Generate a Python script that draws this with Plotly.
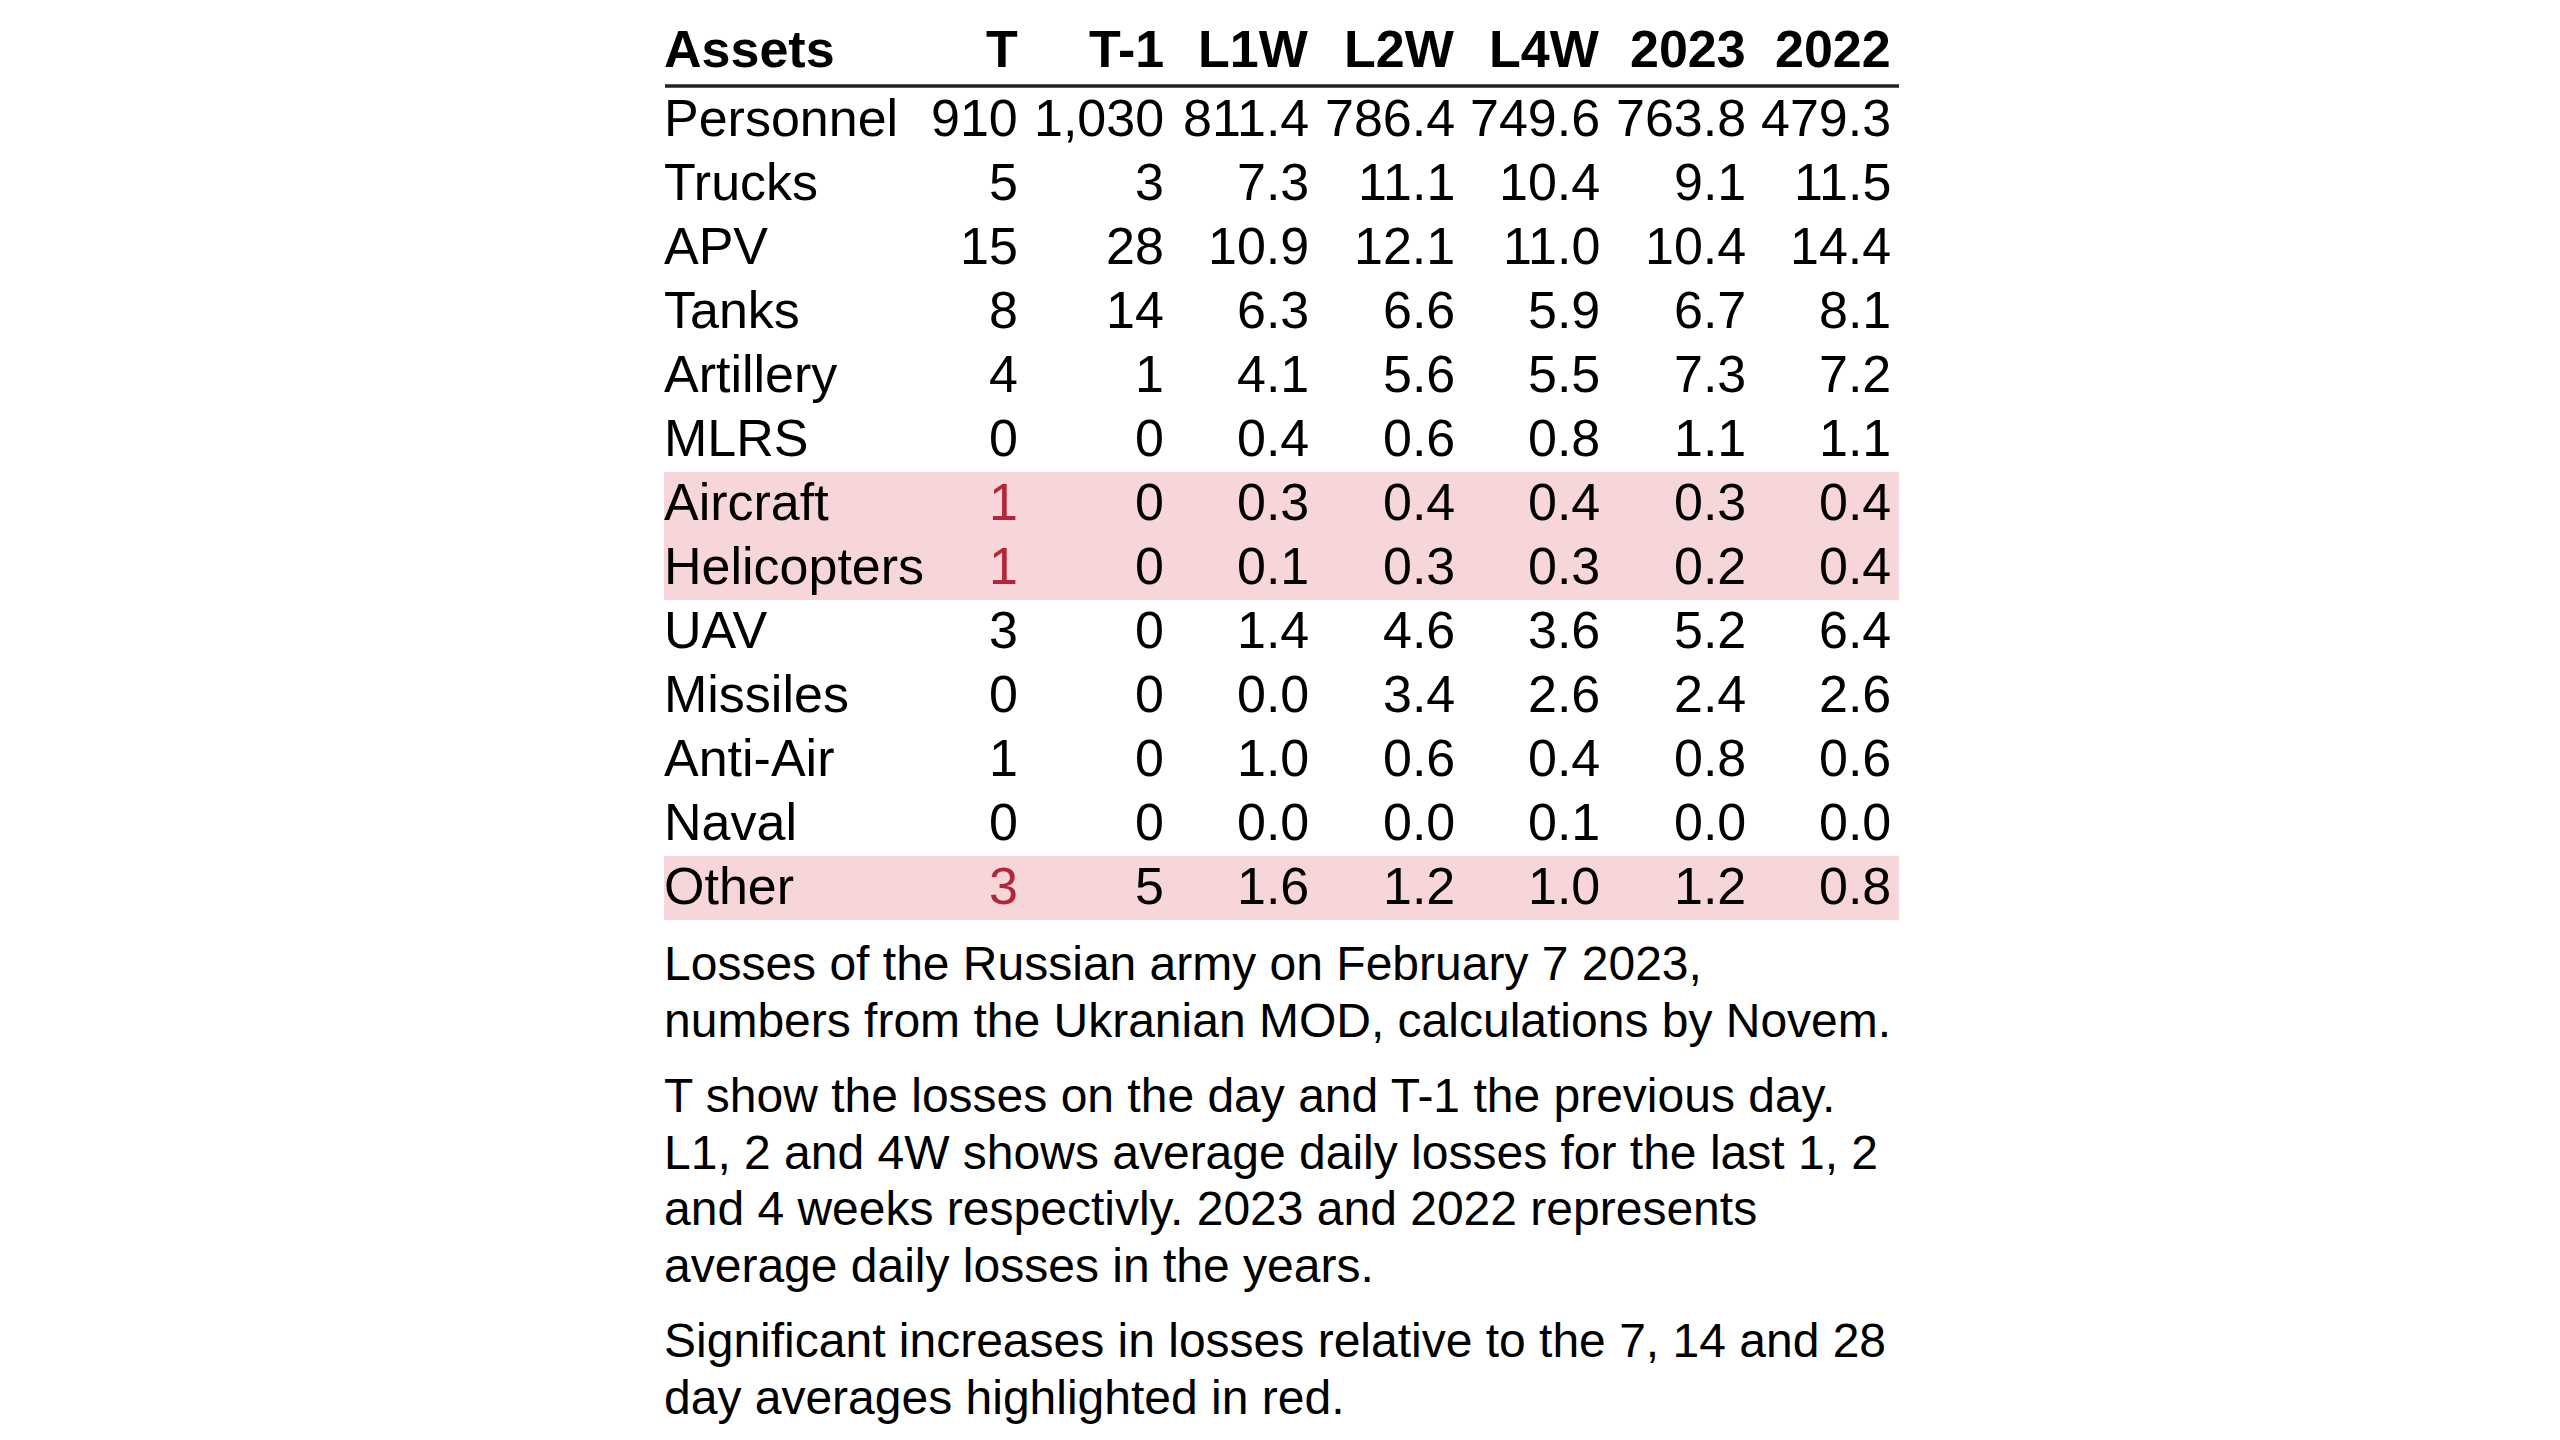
import plotly.graph_objects as go

# table data
assets = ["Personnel", "Trucks", "APV", "Tanks", "Artillery", "MLRS", "Aircraft",
          "Helicopters", "UAV", "Missiles", "Anti-Air", "Naval", "Other"]
columns = ["T", "T-1", "L1W", "L2W", "L4W", "2023", "2022"]

t_day = [910, 5, 15, 8, 4, 0, 1, 1, 3, 0, 1, 0, 3]
t_prev = [1030, 3, 28, 14, 1, 0, 0, 0, 0, 0, 0, 0, 5]
l1w = [811.4, 7.3, 10.9, 6.3, 4.1, 0.4, 0.3, 0.1, 1.4, 0.0, 1.0, 0.0, 1.6]
l2w = [786.4, 11.1, 12.1, 6.6, 5.6, 0.6, 0.4, 0.3, 4.6, 3.4, 0.6, 0.0, 1.2]
l4w = [749.6, 10.4, 11.0, 5.9, 5.5, 0.8, 0.4, 0.3, 3.6, 2.6, 0.4, 0.1, 1.0]
avg_2023 = [763.8, 9.1, 10.4, 6.7, 7.3, 1.1, 0.3, 0.2, 5.2, 2.4, 0.8, 0.0, 1.2]
avg_2022 = [479.3, 11.5, 14.4, 8.1, 7.2, 1.1, 0.4, 0.4, 6.4, 2.6, 0.6, 0.0, 0.8]

# rows where today's losses are a significant increase
highlighted = ["Aircraft", "Helicopters", "Other"]

notes = [
    ["Losses of the Russian army on February 7 2023,",
     "numbers from the Ukranian MOD, calculations by Novem."],
    ["T show the losses on the day and T-1 the previous day.",
     "L1, 2 and 4W shows average daily losses for the last 1, 2",
     "and 4 weeks respectivly. 2023 and 2022 represents",
     "average daily losses in the years."],
    ["Significant increases in losses relative to the 7, 14 and 28",
     "day averages highlighted in red."],
]

# layout (axes are in screen pixels)
W, H = 2560, 1440
LEFT, RIGHT = 665, 1899
TEXT_LEFT = LEFT - 3
COL_RIGHT0, COL_STEP = 1020, 145.5
ROW0, ROW_STEP = 118, 64
HEADER_Y, RULE_Y = 49, 86
NOTE_Y0, NOTE_LINE, NOTE_GAP = 963.5, 56.5, 19

FONT = "Liberation Sans, Arial, sans-serif"
TABLE_SIZE = 52
NOTE_SIZE = 48
RED = "#B1263A"
BAND = "#F7D6DA"

int_cols = [t_day, t_prev]
float_cols = [l1w, l2w, l4w, avg_2023, avg_2022]


def fmt(v, is_int):
    return f"{v:,.0f}" if is_int else f"{v:.1f}"


fig = go.Figure()
annotations = []
shapes = []

# header
annotations.append(dict(x=TEXT_LEFT, y=HEADER_Y, text="<b>Assets</b>", xanchor="left"))
for k, col in enumerate(columns):
    annotations.append(dict(x=COL_RIGHT0 + COL_STEP * k, y=HEADER_Y,
                            text=f"<b>{col}</b>", xanchor="right"))

shapes.append(dict(type="line", xref="x", yref="y", x0=LEFT, x1=RIGHT, y0=RULE_Y, y1=RULE_Y,
                   line=dict(color="#222222", width=3.5)))

all_cols = int_cols + float_cols
for i, name in enumerate(assets):
    yc = ROW0 + ROW_STEP * i
    hl = name in highlighted
    if hl:
        shapes.append(dict(type="rect", xref="x", yref="y", x0=LEFT - 1, x1=RIGHT,
                           y0=yc - 30, y1=yc + 34, fillcolor=BAND, line=dict(width=0),
                           layer="below"))
    annotations.append(dict(x=TEXT_LEFT, y=yc, text=name, xanchor="left"))
    for k, series in enumerate(all_cols):
        color = RED if (hl and k == 0) else "black"
        annotations.append(dict(x=COL_RIGHT0 + COL_STEP * k, y=yc,
                                text=fmt(series[i], k < len(int_cols)),
                                xanchor="right", font=dict(color=color)))

for a in annotations:
    a.update(xref="x", yref="y", yanchor="middle", showarrow=False)
    a.setdefault("font", {})
    a["font"].update(family=FONT, size=TABLE_SIZE)
    a["font"].setdefault("color", "black")

# footnotes
y = NOTE_Y0
for p, para in enumerate(notes):
    for j, line in enumerate(para):
        annotations.append(dict(x=TEXT_LEFT, y=y, text=line, xref="x", yref="y",
                                xanchor="left", yanchor="middle", showarrow=False,
                                font=dict(family=FONT, size=NOTE_SIZE, color="black")))
        y += NOTE_LINE
    y += NOTE_GAP

fig.update_layout(
    width=W, height=H,
    margin=dict(l=0, r=0, t=0, b=0),
    paper_bgcolor="white",
    plot_bgcolor="white",
    showlegend=False,
    xaxis=dict(range=[0, W], visible=False, fixedrange=True),
    yaxis=dict(range=[H, 0], visible=False, fixedrange=True),
    annotations=annotations,
    shapes=shapes,
)

fig.write_html("out.html", config=dict(displayModeBar=False),
               post_script="document.body.style.margin='0';document.body.style.overflow='hidden';")
